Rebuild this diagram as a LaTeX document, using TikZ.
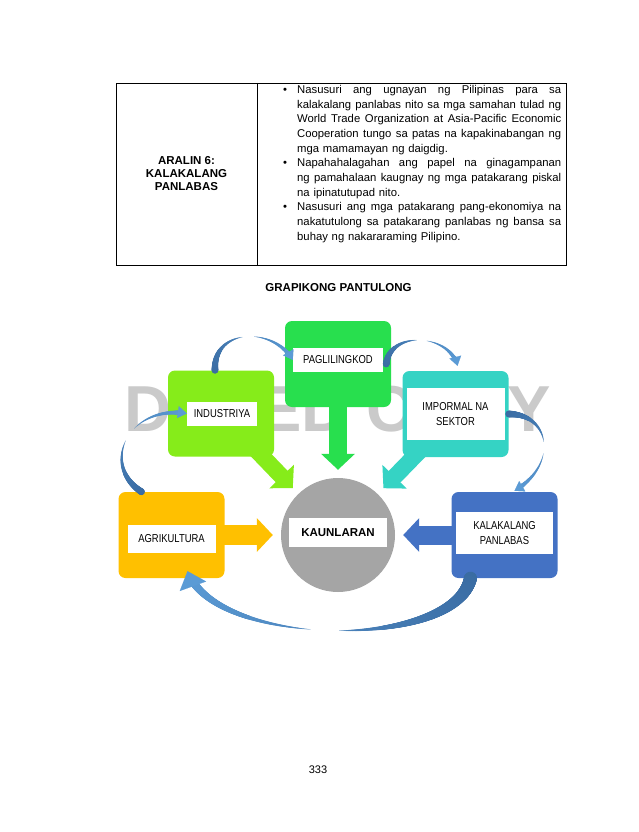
\documentclass[tikz,border=0pt]{standalone}
\usepackage{fontspec}
\setmainfont{Liberation Sans}
\newfontfamily\narrowfont[FakeStretch=0.82]{Liberation Sans}
\usetikzlibrary{arrows.meta,positioning,backgrounds,decorations.markings}
\definecolor{pagreen}{HTML}{28DF4E}
\definecolor{indlime}{HTML}{86EC1A}
\definecolor{impteal}{HTML}{35D3C4}
\definecolor{agryellow}{HTML}{FFC000}
\definecolor{kalblue}{HTML}{4472C4}
\definecolor{hubgray}{HTML}{A5A5A5}
\definecolor{arcdark}{HTML}{3A6CA3}
\definecolor{arclight}{HTML}{5B9BD5}
\definecolor{wmgray}{HTML}{CACACA}

% one justified line / last line of a bullet
\newcommand{\goalline}[1]{\makebox[264pt][s]{\spaceskip=0pt\relax\xspaceskip=0pt\relax #1}}
\newcommand{\goallast}[1]{\makebox[264pt][l]{#1}}
\newcommand{\goalbul}{\makebox[14pt][l]{\textbullet}}
\newcommand{\goalgap}{\hspace*{14pt}}

\tikzset{
  sectorbox/.style={rounded corners=7pt,minimum width=106pt,minimum height=86pt,inner sep=0pt},
  sectortag/.style={fill=white,inner sep=0pt,align=center,
                    font=\narrowfont\fontsize{11.5}{14.5}\selectfont},
  fatarrow/.style={line width=18pt,-{Triangle[length=16pt,width=33pt]},shorten >=8pt},
  % tapered curved line: tail radius, head radius, room left for the tip
  loopline/.style n args={3}{
    decoration={markings,
      mark=between positions 0 and 1 step 0.4pt with {
        \pgfmathsetmacro\arcpos{\pgfkeysvalueof{/pgf/decoration/mark info/distance from start}/\pgfdecoratedpathlength}
        \pgfmathsetmacro\arcrad{(\arcpos>(1-0.8*#3/\pgfdecoratedpathlength)) ? 0 :
          ((\arcpos<0.47) ? #1*(0.47-\arcpos)/0.47 : ((\arcpos>0.53) ? #2*(\arcpos-0.53)/0.47 : 0))}
        \pgfmathtruncatemacro\arcmix{100*(1-\arcpos)}
        \ifdim\arcrad pt>0.15pt
          \fill[arcdark!\arcmix!arclight] (0pt,0pt) circle[radius=\arcrad pt];
        \fi
      }
    },
    postaction={decorate}
  },
  looptip/.style={arclight,line width=0.1pt,-{Triangle[length=9pt,width=12pt]}},
  bigtip/.style={arclight,line width=0.1pt,-{Triangle[length=16pt,width=28pt]}}
}

\begin{document}
\begin{tikzpicture}[x=1pt,y=-1pt]
  \useasboundingbox (0,0) rectangle (639,832);

  % table
  \draw[line width=0.9pt] (116,83) rectangle (566,265);
  \draw[line width=0.9pt] (257,83) -- (257,265);
  \node[font=\bfseries\fontsize{11.5}{13}\selectfont,align=center] (lesson) at (186.5,174)
    {ARALIN 6:\\KALAKALANG\\PANLABAS};
  \node[anchor=north west,inner sep=0pt,text width=278pt,align=left,
        font=\fontsize{11.3}{14.7}\selectfont] (goals) at (283,85) {%
    \goalbul\goalline{Nasusuri ang ugnayan ng Pilipinas para sa}\\
    \goalgap\goalline{kalakalang panlabas nito sa mga samahan tulad ng}\\
    \goalgap\goalline{World Trade Organization at Asia-Pacific Economic}\\
    \goalgap\goalline{Cooperation tungo sa patas na kapakinabangan ng}\\
    \goalgap\goallast{mga mamamayan ng daigdig.}\\
    \goalbul\goalline{Napahahalagahan ang papel na ginagampanan}\\
    \goalgap\goalline{ng pamahalaan kaugnay ng mga patakarang piskal}\\
    \goalgap\goallast{na ipinatutupad nito.}\\
    \goalbul\goalline{Nasusuri ang mga patakarang pang-ekonomiya na}\\
    \goalgap\goalline{nakatutulong sa patakarang panlabas ng bansa sa}\\
    \goalgap\goallast{buhay ng nakararaming Pilipino.}};

  \node[font=\bfseries\fontsize{11.5}{14}\selectfont] (title) at (338.5,287.5) {GRAPIKONG PANTULONG};

  % sectors
  \node[sectorbox,fill=pagreen] (pag) at (338,364) {};
  \node[sectorbox,fill=indlime] (ind) at (221,413.5) {};
  \node[sectorbox,fill=impteal] (imp) at (455.5,414) {};
  \node[sectorbox,fill=agryellow] (agr) at (171.5,535) {};
  \node[sectorbox,fill=kalblue] (kal) at (504.5,535) {};
  \node[circle,fill=hubgray,minimum size=114pt,inner sep=0pt] (kaun) at (338,535) {};

  \node[sectortag,minimum width=90pt,minimum height=24pt] (pagl) at ([yshift=4pt]pag.center) {PAGLILINGKOD};
  \node[sectortag,minimum width=70pt,minimum height=24pt] (indl) at ([xshift=1pt]ind.center) {INDUSTRIYA};
  \node[sectortag,minimum width=98pt,minimum height=52pt] (impl) at (imp.center) {IMPORMAL NA\\SEKTOR};
  \node[sectortag,minimum width=88pt,minimum height=28pt] (agrl) at ([yshift=-4pt]agr.center) {AGRIKULTURA};
  \node[sectortag,minimum width=97pt,minimum height=42pt] (kall) at ([yshift=2pt]kal.center) {KALAKALANG\\PANLABAS};
  \node[sectortag,font=\bfseries\fontsize{11.5}{14}\selectfont,minimum width=98pt,minimum height=29pt]
    (kaunl) at ([yshift=2.5pt]kaun.center) {KAUNLARAN};

  \node[font=\fontsize{11}{13}\selectfont] (pagenum) at (318,770) {333};

  \begin{scope}[on background layer]
    \fill[white] (0,0) rectangle (639,832);
    \node[font=\bfseries\fontsize{65}{65}\selectfont,text=wmgray] (wmark) at (338,409.5) {DEPED COPY};
    \draw[fatarrow,pagreen] (pag.center) -- (kaun);
    \draw[fatarrow,indlime,line width=16.5pt] (ind.center) -- (kaun);
    \draw[fatarrow,impteal,line width=16.5pt] (imp.center) -- (kaun);
    \draw[fatarrow,agryellow,line width=20pt] (agr.center) -- (kaun);
    \draw[fatarrow,kalblue,line width=19pt] (kal.center) -- (kaun);
  \end{scope}

  % cycle of curved arrows
  \coordinate (tipA) at (pagl.west);
  \coordinate (tipB) at ([xshift=2pt,yshift=5pt]imp.north);
  \coordinate (tipC) at ([xshift=10pt,yshift=1pt]kal.north);
  \coordinate (tipD) at ([xshift=16pt,yshift=7pt]agr.south);
  \coordinate (tipE) at (indl.west);
  \path[loopline={3.4}{2.5}{9}] ([xshift=-6pt]ind.north)
    .. controls +(-2,-42) and +(-20,-34) .. (tipA);
  \path[loopline={3.4}{2.5}{9}] ([xshift=-5pt]pag.east)
    .. controls +(4,-34) and +(-8,-32) .. (tipB);
  \path[loopline={3.4}{2.5}{9}] (imp.east)
    .. controls +(42,0) and +(44,-26) .. (tipC);
  \path[loopline={6.5}{4.5}{16}] ([xshift=-34pt]kal.south)
    .. controls +(-16,72) and +(28,77) .. (tipD);
  \path[loopline={3.4}{2.5}{9}] ([xshift=-30pt]agr.north)
    .. controls +(-41.5,-27) and +(-59,-9) .. (tipE);
  \draw[looptip] ([shift={(-1,-1.7)}]tipA) -- (tipA);
  \draw[looptip] ([shift={(-0.49,-1.94)}]tipB) -- (tipB);
  \draw[looptip] ([shift={(1.72,-1.02)}]tipC) -- (tipC);
  \draw[bigtip] ([shift={(0.68,1.88)}]tipD) -- (tipD);
  \draw[looptip] ([shift={(-1.98,-0.3)}]tipE) -- (tipE);
\end{tikzpicture}
\end{document}
